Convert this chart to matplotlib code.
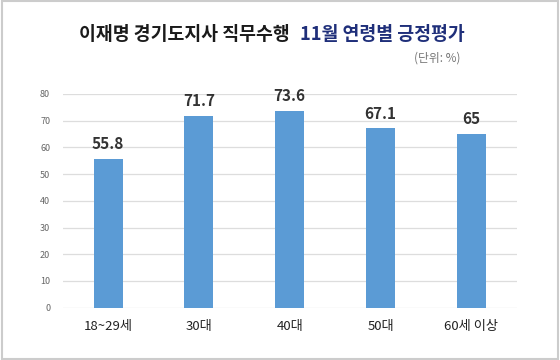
import matplotlib
matplotlib.use('Agg')
import matplotlib.pyplot as plt
from matplotlib.patches import Rectangle

plt.rcParams['font.family'] = ['Noto Sans CJK KR', 'DejaVu Sans']

groups = ['18~29세', '30대', '40대', '50대', '60세 이상']
values = [55.8, 71.7, 73.6, 67.1, 65]
value_labels = ['55.8', '71.7', '73.6', '67.1', '65']
yticks = [0, 10, 20, 30, 40, 50, 60, 70, 80]

fig = plt.figure(figsize=(5.6, 3.6), dpi=100)
ax = fig.add_axes([0.112, 0.1453, 0.8107, 0.5936])

x = range(len(groups))
ax.bar(x, values, width=0.32, color='#5b9bd5', zorder=3)
for xi, v, lab in zip(x, values, value_labels):
    ax.annotate(lab, (xi, v), xytext=(0, 5), textcoords='offset points',
                ha='center', va='bottom', fontsize=11, fontweight='bold',
                color='#333333')

ax.set_xlim(-0.5, len(groups) - 0.5)
ax.set_ylim(0, 80)
ax.set_yticks(yticks)
ax.set_xticks(list(x))
ax.set_xticklabels(groups, fontsize=9.5, color='#222222')
ax.tick_params(axis='y', length=0, pad=9, labelsize=6.5, labelcolor='#666666')
ax.tick_params(axis='x', length=0, pad=9)
ax.grid(axis='y', color='#dddddd', linewidth=0.9, zorder=0)
for s in ax.spines.values():
    s.set_visible(False)

# title in two colours
t1 = fig.text(0.141, 0.905, '이재명 경기도지사 직무수행', fontsize=13.2,
              fontweight='black', color='#1a1a1a', ha='left', va='center')
fig.canvas.draw()
bb = t1.get_window_extent()
x2 = (bb.x1 + 10) / fig.bbox.width
fig.text(x2, 0.905, '11월 연령별 긍정평가', fontsize=13.2, fontweight='black',
         color='#1f2f7a', ha='left', va='center')
fig.text(0.823, 0.84, '(단위: %)', fontsize=8.5, color='#777777',
         ha='right', va='center')

# light grey frame round the picture
fig.patches.append(Rectangle((0.003, 0.004), 0.993, 0.992, transform=fig.transFigure,
                             fill=False, edgecolor='#cccccc', linewidth=1.5))

fig.savefig('out.png', dpi=100, facecolor='white')
